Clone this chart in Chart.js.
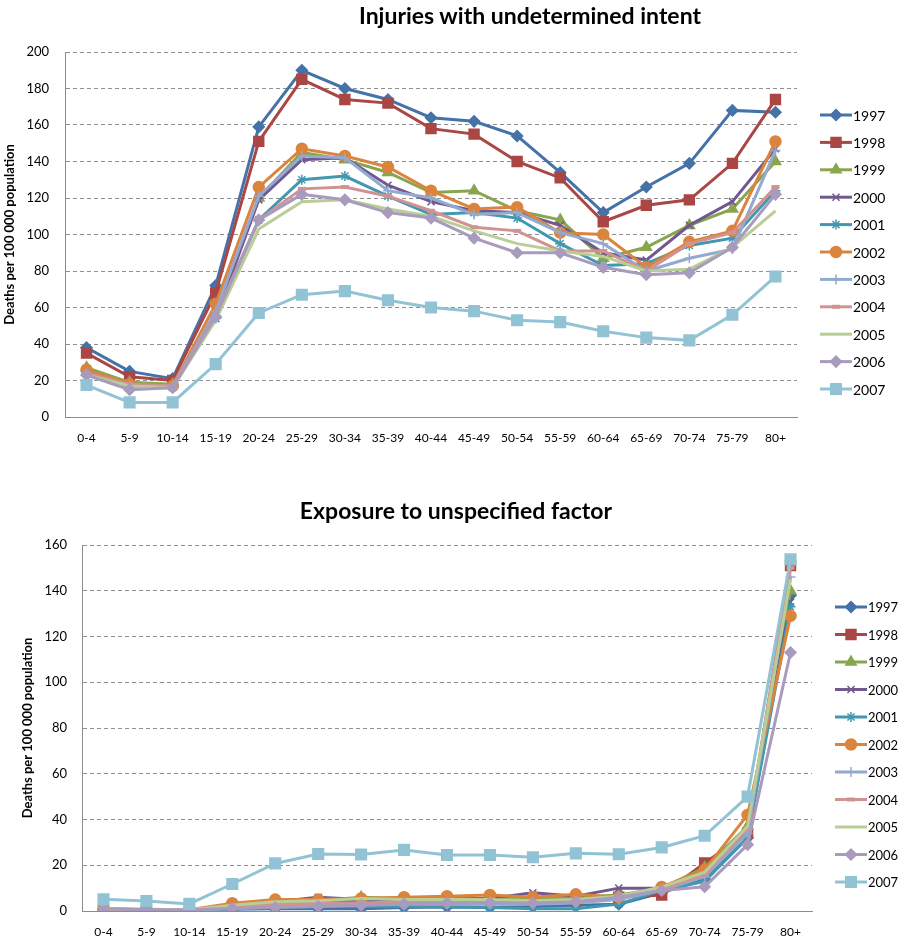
<!doctype html>
<html lang="en">
<head>
  <meta charset="utf-8">
  <title>Injuries with undetermined intent / Exposure to unspecified factor</title>
  <script src="https://cdn.jsdelivr.net/npm/chart.js@4.4.1/dist/chart.umd.min.js"></script>
  <style>
    body { margin: 0; background: #fff; width: 899px; height: 944px; position: relative; overflow: hidden; }
    .box { position: absolute; left: 0; width: 899px; }
    .ttl { position: absolute; width: 600px; text-align: center; font: bold 23px Lato, "Liberation Sans", sans-serif; color: #000; line-height: 26px; }
    canvas { position: absolute; left: 0; top: 0; }
  </style>
</head>
<body>
  <div class="box" style="top:0;height:455px">
    <canvas id="chart1" width="899" height="455"></canvas>
    <div class="ttl" style="left:230px;top:2px">Injuries with undetermined intent</div>
  </div>
  <div class="box" style="top:480px;height:464px">
    <canvas id="chart2" width="899" height="464"></canvas>
    <div class="ttl" style="left:156px;top:17px">Exposure to unspecified factor</div>
  </div>

  <script>
    // age groups
    const ageGroups = ['0-4', '5-9', '10-14', '15-19', '20-24', '25-29', '30-34', '35-39', '40-44',
      '45-49', '50-54', '55-59', '60-64', '65-69', '70-74', '75-79', '80+'];
    const years = ['1997', '1998', '1999', '2000', '2001', '2002', '2003', '2004', '2005', '2006', '2007'];

    // Injuries with undetermined intent (deaths per 100 000)
    const undet1997 = [38, 25, 21, 72, 159, 190, 180, 174, 164, 162, 154, 134, 112, 126, 139, 168, 167];
    const undet1998 = [35, 22, 20, 68, 151, 185, 174, 172, 158, 155, 140, 131, 107, 116, 119, 139, 174];
    const undet1999 = [27, 19, 18, 56, 120, 145, 141, 134, 123, 124, 113, 108, 87, 93, 105, 114, 140];
    const undet2000 = [25, 17, 17, 54, 119, 141, 142, 127, 118, 113, 112, 105, 90, 86, 105, 118, 147];
    const undet2001 = [24, 17, 17, 54, 108, 130, 132, 121, 111, 112, 109, 95, 83, 84, 94, 98, 124];
    const undet2002 = [26, 18, 17, 62, 126, 147, 143, 137, 124, 114, 115, 101, 100, 82, 96, 102, 151];
    const undet2003 = [24, 17, 17, 58, 121, 143, 142, 124, 120, 111, 112, 101, 95, 80, 87, 92, 146];
    const undet2004 = [24, 18, 17, 56, 108, 125, 126, 121, 113, 104, 102, 91, 91, 80, 95, 101, 126];
    const undet2005 = [23, 17, 16, 53, 103, 118, 119, 114, 110, 102, 95, 91, 88, 80, 81, 93, 113];
    const undet2006 = [23, 15, 16, 55, 108, 122, 119, 112, 109, 98, 90, 90, 82, 78, 79, 93, 122];
    const undet2007 = [17.5, 8, 8, 29, 57, 67, 69, 64, 60, 58, 53, 52, 47, 43.5, 42, 56, 77];

    // Exposure to unspecified factor (deaths per 100 000)
    const expo1997 = [0.5, 0.3, 0.3, 0.8, 1, 1, 1, 1.5, 1.8, 1.5, 2, 2.5, 3, 8, 14, 32, 138];
    const expo1998 = [0.5, 0.4, 0.4, 1.5, 3, 4, 4, 4.5, 5, 5, 5, 5, 6, 7, 21, 34, 151];
    const expo1999 = [1, 0.8, 0.6, 2, 4, 4.5, 6, 5.5, 5.5, 5.5, 5.5, 6, 7, 10, 19, 37, 140];
    const expo2000 = [0.8, 0.6, 0.5, 2, 4, 6, 5, 5, 5, 5.5, 8, 6.5, 10, 10, 16, 35, 135];
    const expo2001 = [0.5, 0.3, 0.3, 1, 1.5, 2, 2, 2, 2, 1.5, 1, 1, 3, 9, 13, 32, 133];
    const expo2002 = [1, 0.6, 0.5, 3.4, 5, 5, 5.5, 6, 6.5, 7, 6, 7.3, 6, 10.5, 18, 42, 129];
    const expo2003 = [0.5, 0.4, 0.4, 1, 2, 2.5, 3, 3, 3, 3, 3, 3.5, 5, 9, 15, 34, 146];
    const expo2004 = [0.8, 0.6, 0.5, 1.8, 3, 3.5, 3.5, 4, 4, 4, 4, 4.5, 6, 9.5, 16, 36, 150];
    const expo2005 = [1, 0.7, 0.5, 2.5, 4, 4.5, 5.5, 5, 5, 5, 4.5, 5, 6.5, 10.5, 17, 37, 145];
    const expo2006 = [1, 0.5, 0.4, 1.2, 1.5, 2, 2.5, 3, 3.5, 3.6, 3.5, 4, 6, 9, 10.6, 29, 113];
    const expo2007 = [5.1, 4.4, 3.1, 11.8, 20.8, 24.9, 24.7, 26.7, 24.5, 24.5, 23.5, 25.2, 24.8, 27.8, 32.9, 50, 153.7];

    const undetSeries = [undet1997, undet1998, undet1999, undet2000, undet2001, undet2002,
      undet2003, undet2004, undet2005, undet2006, undet2007];
    const expoSeries = [expo1997, expo1998, expo1999, expo2000, expo2001, expo2002,
      expo2003, expo2004, expo2005, expo2006, expo2007];

    const colors = ['#4572A7', '#AA4643', '#89A54E', '#71588F', '#4198AF', '#DB843D',
      '#93A9CF', '#D19392', '#B9CD96', '#A99BBD', '#92C3D5'];
    const markers = ['rectRot', 'rect', 'triangle', 'crossRot', 'star', 'circle',
      'cross', 'line', false, 'rectRot', 'rect'];
    const markerSize = [5.5, 7, 6, 5, 5, 5.5, 5, 4, 0, 5.5, 7.5];

    const FONT = 'Lato, "Liberation Sans", sans-serif';

    function buildDatasets(series) {
      return series.map((vals, i) => ({
        label: years[i],
        data: vals,
        borderColor: colors[i],
        backgroundColor: colors[i],
        borderWidth: 3,
        pointStyle: markers[i],
        pointRadius: markerSize[i],
        pointHoverRadius: markerSize[i],
        pointBackgroundColor: colors[i],
        pointBorderColor: colors[i],
        pointBorderWidth: (markers[i] === 'line') ? 4 : 1.5,
        tension: 0,
        order: series.length - i
      }));
    }

    // legend: line with marker, drawn at the right
    const sideLegend = {
      id: 'sideLegend',
      afterDraw(chart, args, opts) {
        const ctx = chart.ctx;
        ctx.save();
        chart.data.datasets.forEach((ds, i) => {
          const y = opts.y + i * opts.gap;
          ctx.strokeStyle = ds.borderColor;
          ctx.lineWidth = 3;
          ctx.beginPath();
          ctx.moveTo(opts.x, y);
          ctx.lineTo(opts.x + opts.len, y);
          ctx.stroke();
          if (ds.pointStyle && ds.pointRadius > 0) {
            ctx.fillStyle = ds.pointBackgroundColor;
            ctx.strokeStyle = ds.pointBorderColor;
            ctx.lineWidth = ds.pointBorderWidth;
            Chart.helpers.drawPoint(ctx, {
              pointStyle: ds.pointStyle, radius: ds.pointRadius, rotation: 0,
              borderWidth: ds.pointBorderWidth
            }, opts.x + opts.len / 2, y);
          }
          ctx.fillStyle = '#000';
          ctx.font = opts.size + 'px ' + FONT;
          ctx.textBaseline = 'middle';
          ctx.textAlign = 'left';
          ctx.fillText(ds.label, opts.x + opts.len + 1, y + 1);
        });
        ctx.restore();
      }
    };

    function makeChart(id, series, yMax, geo) {
      return new Chart(document.getElementById(id), {
        type: 'line',
        data: { labels: ageGroups, datasets: buildDatasets(series) },
        options: {
          responsive: false,
          animation: false,
          layout: { padding: { top: geo.top, right: geo.right, bottom: 0, left: 0 } },
          plugins: {
            legend: { display: false },
            tooltip: { enabled: false },
            sideLegend: geo.legend
          },
          scales: {
            x: {
              offset: true,
              grid: { display: false, drawTicks: false },
              border: { display: true, color: '#8c8c8c', width: 1 },
              ticks: { color: '#000', font: { family: FONT, size: 12 }, padding: 14, maxRotation: 0, autoSkip: false },
              afterFit(s) { s.height = geo.xHeight; }
            },
            y: {
              min: 0,
              max: yMax,
              ticks: { stepSize: 20, color: '#000', font: { family: FONT, size: 13 }, padding: geo.tickPad },
              grid: { color: '#8f8f8f', lineWidth: 1, drawTicks: false },
              border: { display: true, color: '#8c8c8c', width: 1, dash: [4, 3] },
              title: {
                display: true,
                text: 'Deaths per 100 000 population',
                color: '#000',
                font: { family: FONT, size: 13, weight: 'bold' },
                padding: { top: geo.titlePad, bottom: 0 }
              },
              afterFit(s) { s.width = geo.yWidth; }
            }
          }
        },
        plugins: [sideLegend, {
          id: 'solidAxis',
          afterDraw(chart) {
            // solid left axis line over dashed grid
            const a = chart.chartArea, ctx = chart.ctx;
            ctx.save();
            ctx.strokeStyle = '#8c8c8c';
            ctx.lineWidth = 1;
            ctx.beginPath();
            ctx.moveTo(a.left + 0.5, a.top);
            ctx.lineTo(a.left + 0.5, a.bottom);
            ctx.stroke();
            ctx.restore();
          }
        }]
      });
    }

    makeChart('chart1', undetSeries, 200, {
      top: 52, right: 102, xHeight: 455 - 417, yWidth: 65, tickPad: 16, titlePad: 2,
      legend: { x: 820, y: 115, gap: 27.4, len: 32, size: 14 }
    });
    makeChart('chart2', expoSeries, 160, {
      top: 65, right: 87, xHeight: 464 - 431, yWidth: 82, tickPad: 15, titlePad: 20,
      legend: { x: 835, y: 127, gap: 27.5, len: 32, size: 13 }
    });
  </script>
</body>
</html>
